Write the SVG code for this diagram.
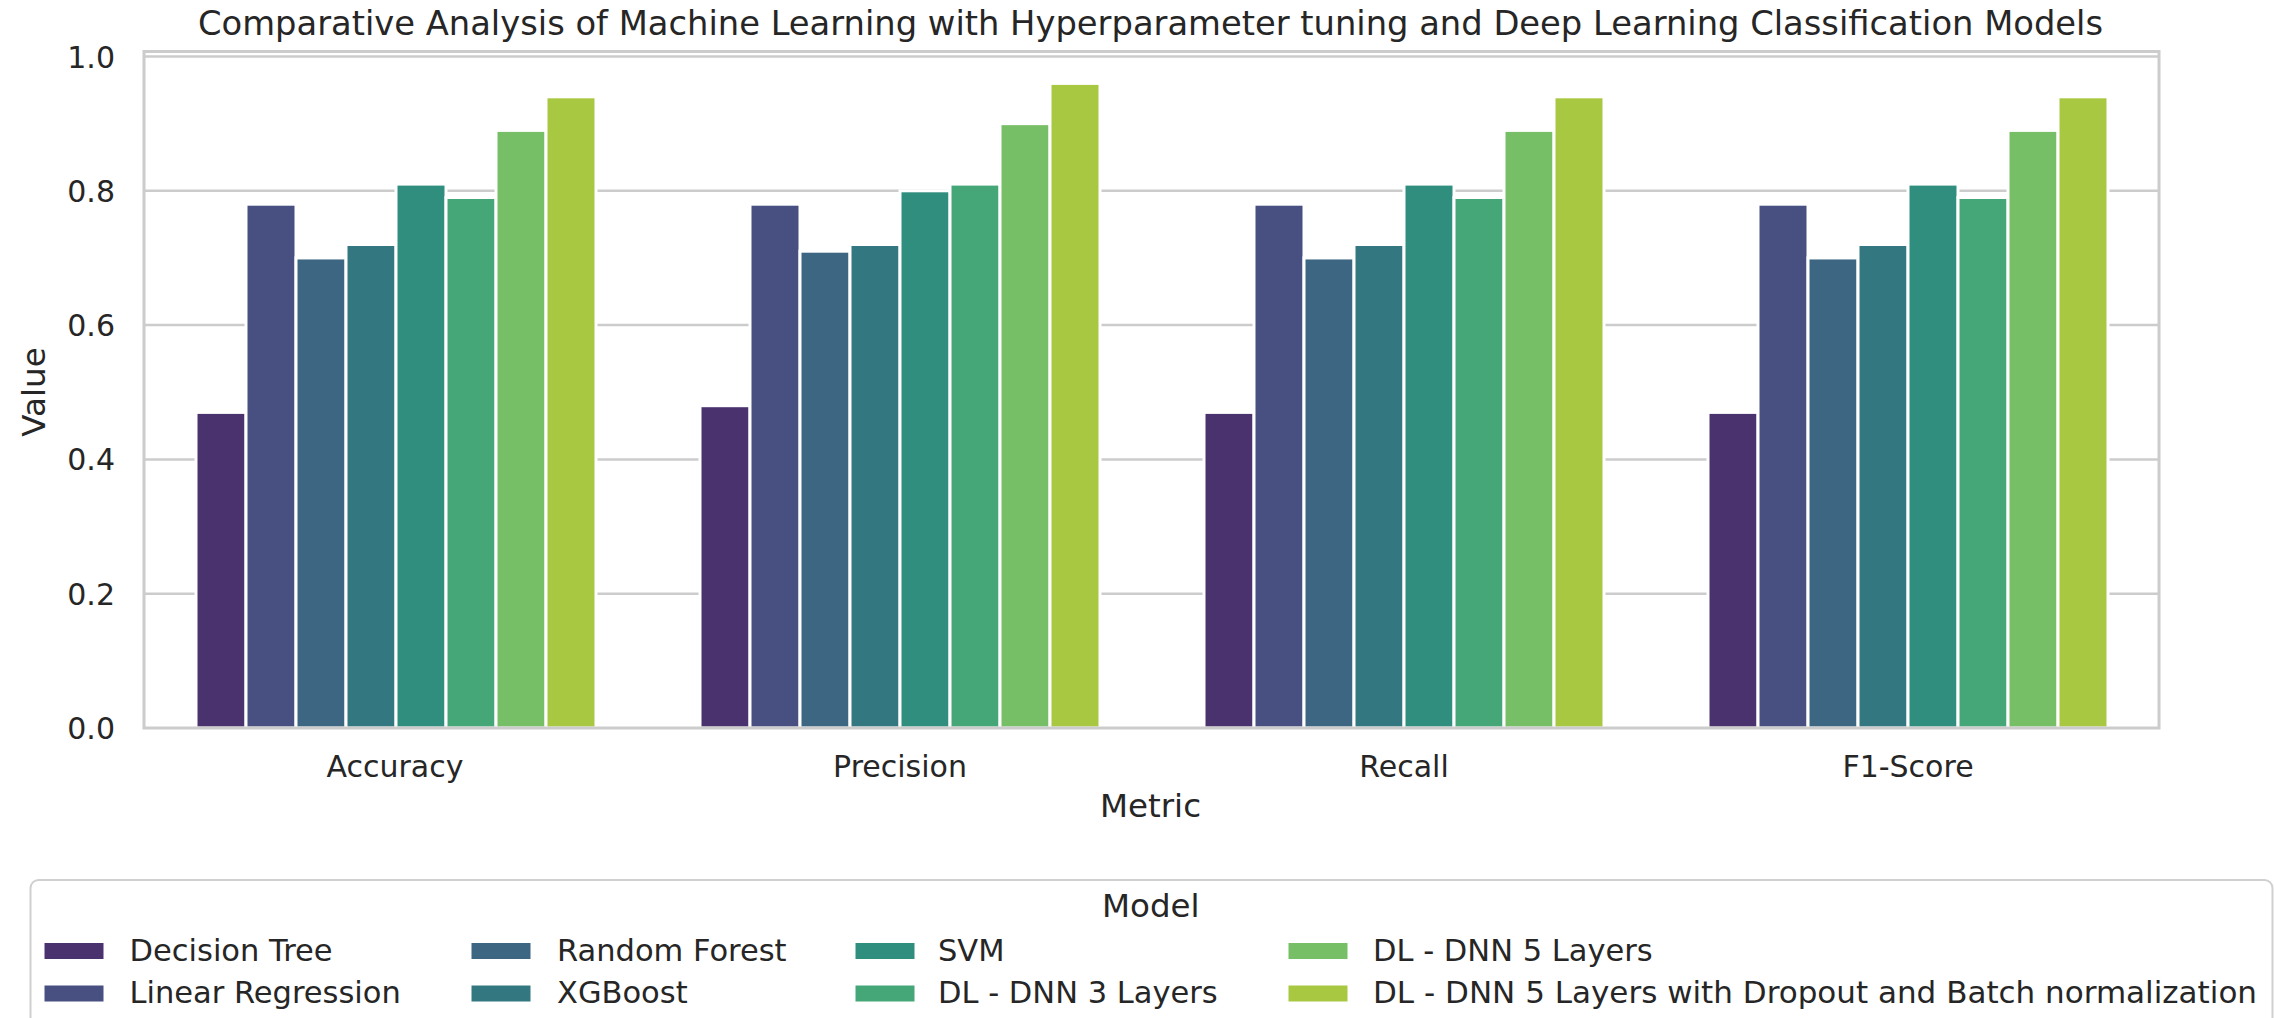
<svg xmlns="http://www.w3.org/2000/svg" width="2274" height="1018" viewBox="0 0 2274 1018">
  <style>
    text { font-family: "DejaVu Sans", "Liberation Sans", sans-serif; fill: #262626; }
    .title { font-size: 33px; }
    .axlabel { font-size: 32.5px; }
    .tick { font-size: 30px; }
    .ytick { font-size: 30px; text-anchor: end; }
    .xtick { font-size: 30px; text-anchor: middle; }
    .leg { font-size: 30.5px; }
    .grid { stroke: #cccccc; stroke-width: 2.5; fill: none; }
    .spine { stroke: #cccccc; stroke-width: 3; fill: none; }
    .bar { stroke: #ffffff; stroke-width: 3; }
    .patch { stroke: #ffffff; stroke-width: 1; }
    .m0 { fill: #4a326e; }
    .m1 { fill: #475080; }
    .m2 { fill: #3d6682; }
    .m3 { fill: #337881; }
    .m4 { fill: #2f8e7e; }
    .m5 { fill: #45a778; }
    .m6 { fill: #77bf67; }
    .m7 { fill: #a9c841; }
  </style>

  <rect x="0" y="0" width="2274" height="1018" fill="#ffffff"/>

  <!-- title -->
  <text class="title" x="1150.5" y="35" text-anchor="middle" textLength="1905" lengthAdjust="spacingAndGlyphs">Comparative Analysis of Machine Learning with Hyperparameter tuning and Deep Learning Classification Models</text>

  <!-- horizontal grid (value 0.0 .. 1.0, 671.5 px per unit, zero at y=728) -->
  <g id="grid">
    <line class="grid" x1="144" y1="593.7" x2="2159" y2="593.7"/>
    <line class="grid" x1="144" y1="459.4" x2="2159" y2="459.4"/>
    <line class="grid" x1="144" y1="325.1" x2="2159" y2="325.1"/>
    <line class="grid" x1="144" y1="190.8" x2="2159" y2="190.8"/>
    <line class="grid" x1="144" y1="56.5" x2="2159" y2="56.5"/>
  </g>

  <!-- bars: one group per metric, 8 models each -->
  <g id="bars-accuracy">
    <rect class="bar m0" x="196" y="412.4" width="50" height="315.6"/>
    <rect class="bar m1" x="246" y="204.2" width="50" height="523.8"/>
    <rect class="bar m2" x="296" y="257.95" width="50" height="470.05"/>
    <rect class="bar m3" x="346" y="244.5" width="50" height="483.5"/>
    <rect class="bar m4" x="396" y="184.1" width="50" height="543.9"/>
    <rect class="bar m5" x="446" y="197.5" width="50" height="530.5"/>
    <rect class="bar m6" x="496" y="130.4" width="50" height="597.6"/>
    <rect class="bar m7" x="546" y="96.8" width="50" height="631.2"/>
  </g>
  <g id="bars-precision">
    <rect class="bar m0" x="700" y="405.7" width="50" height="322.3"/>
    <rect class="bar m1" x="750" y="204.2" width="50" height="523.8"/>
    <rect class="bar m2" x="800" y="251.2" width="50" height="476.8"/>
    <rect class="bar m3" x="850" y="244.5" width="50" height="483.5"/>
    <rect class="bar m4" x="900" y="190.8" width="50" height="537.2"/>
    <rect class="bar m5" x="950" y="184.1" width="50" height="543.9"/>
    <rect class="bar m6" x="1000" y="123.65" width="50" height="604.35"/>
    <rect class="bar m7" x="1050" y="83.4" width="50" height="644.6"/>
  </g>
  <g id="bars-recall">
    <rect class="bar m0" x="1204" y="412.4" width="50" height="315.6"/>
    <rect class="bar m1" x="1254" y="204.2" width="50" height="523.8"/>
    <rect class="bar m2" x="1304" y="257.95" width="50" height="470.05"/>
    <rect class="bar m3" x="1354" y="244.5" width="50" height="483.5"/>
    <rect class="bar m4" x="1404" y="184.1" width="50" height="543.9"/>
    <rect class="bar m5" x="1454" y="197.5" width="50" height="530.5"/>
    <rect class="bar m6" x="1504" y="130.4" width="50" height="597.6"/>
    <rect class="bar m7" x="1554" y="96.8" width="50" height="631.2"/>
  </g>
  <g id="bars-f1">
    <rect class="bar m0" x="1708" y="412.4" width="50" height="315.6"/>
    <rect class="bar m1" x="1758" y="204.2" width="50" height="523.8"/>
    <rect class="bar m2" x="1808" y="257.95" width="50" height="470.05"/>
    <rect class="bar m3" x="1858" y="244.5" width="50" height="483.5"/>
    <rect class="bar m4" x="1908" y="184.1" width="50" height="543.9"/>
    <rect class="bar m5" x="1958" y="197.5" width="50" height="530.5"/>
    <rect class="bar m6" x="2008" y="130.4" width="50" height="597.6"/>
    <rect class="bar m7" x="2058" y="96.8" width="50" height="631.2"/>
  </g>

  <!-- axes frame -->
  <rect id="frame" class="spine" x="144" y="51.5" width="2015" height="676.5"/>

  <!-- y ticks -->
  <g id="yticks">
    <text class="ytick" x="115" y="739">0.0</text>
    <text class="ytick" x="115" y="604.7">0.2</text>
    <text class="ytick" x="115" y="470.4">0.4</text>
    <text class="ytick" x="115" y="336.1">0.6</text>
    <text class="ytick" x="115" y="201.8">0.8</text>
    <text class="ytick" x="115" y="67.5">1.0</text>
  </g>

  <!-- x ticks -->
  <g id="xticks">
    <text class="xtick" x="395" y="777">Accuracy</text>
    <text class="xtick" x="900" y="777">Precision</text>
    <text class="xtick" x="1404" y="777">Recall</text>
    <text class="xtick" x="1908" y="777">F1-Score</text>
  </g>

  <!-- axis labels -->
  <text class="axlabel" x="1150.5" y="816.5" text-anchor="middle">Metric</text>
  <text class="axlabel" transform="translate(44.5,392) rotate(-90)" text-anchor="middle">Value</text>

  <!-- legend -->
  <g id="legend">
    <rect x="30.5" y="880" width="2242" height="160" rx="8" ry="8" fill="#ffffff" stroke="#d0d0d0" stroke-width="2"/>
    <text class="axlabel" x="1150.8" y="917" text-anchor="middle">Model</text>

    <g id="legend-decision-tree">
      <rect class="patch m0" x="44" y="942.5" width="60" height="17"/>
      <text class="leg" x="129.5" y="960.5">Decision Tree</text>
    </g>
    <g id="legend-linear-regression">
      <rect class="patch m1" x="44" y="985" width="60" height="17"/>
      <text class="leg" x="129.5" y="1003">Linear Regression</text>
    </g>
    <g id="legend-random-forest">
      <rect class="patch m2" x="471" y="942.5" width="60" height="17"/>
      <text class="leg" x="557" y="960.5">Random Forest</text>
    </g>
    <g id="legend-xgboost">
      <rect class="patch m3" x="471" y="985" width="60" height="17"/>
      <text class="leg" x="557" y="1003">XGBoost</text>
    </g>
    <g id="legend-svm">
      <rect class="patch m4" x="855" y="942.5" width="60" height="17"/>
      <text class="leg" x="938" y="960.5">SVM</text>
    </g>
    <g id="legend-dnn3">
      <rect class="patch m5" x="855" y="985" width="60" height="17"/>
      <text class="leg" x="938" y="1003">DL - DNN 3 Layers</text>
    </g>
    <g id="legend-dnn5">
      <rect class="patch m6" x="1288" y="942.5" width="60" height="17"/>
      <text class="leg" x="1373" y="960.5">DL - DNN 5 Layers</text>
    </g>
    <g id="legend-dnn5-dropout-bn">
      <rect class="patch m7" x="1288" y="985" width="60" height="17"/>
      <text class="leg" x="1373" y="1003" textLength="884" lengthAdjust="spacingAndGlyphs">DL - DNN 5 Layers with Dropout and Batch normalization</text>
    </g>
  </g>
</svg>
